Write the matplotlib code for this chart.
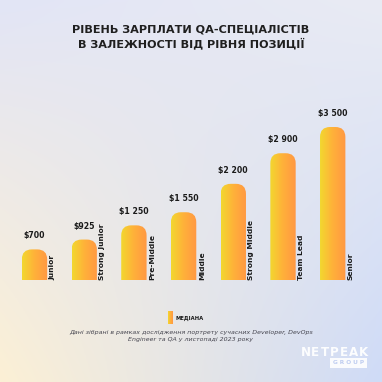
import numpy as np
import matplotlib
matplotlib.use("Agg")
import matplotlib.pyplot as plt
from matplotlib.patches import FancyBboxPatch
from matplotlib.colors import LinearSegmentedColormap, to_rgb

# data
categories = ["Junior", "Strong Junior", "Pre-Middle", "Middle",
              "Strong Middle", "Team Lead", "Senior"]
median_salary = [700, 925, 1250, 1550, 2200, 2900, 3500]
value_labels = ["$700", "$925", "$1 250", "$1 550", "$2 200", "$2 900", "$3 500"]

title = "РІВЕНЬ ЗАРПЛАТИ QA-СПЕЦІАЛІСТІВ\nВ ЗАЛЕЖНОСТІ ВІД РІВНЯ ПОЗИЦІЇ"
legend_label = "МЕДІАНА"
footnote = ("Дані зібрані в рамках дослідження портрету сучасних Developer, DevOps\n"
            "Engineer та QA у листопаді 2023 року")

W = H = 382
fig = plt.figure(figsize=(W / 100, H / 100), dpi=100)

# background gradient (4 corners blend)
bg = fig.add_axes([0, 0, 1, 1])
tl, tr = np.array(to_rgb("#e2e5f6")), np.array(to_rgb("#e9ebf3"))
bl, br = np.array(to_rgb("#fcf0d5")), np.array(to_rgb("#cfdbf7"))
u = np.linspace(0, 1, 200)[None, :, None]
v = np.linspace(0, 1, 200)[:, None, None]
img = (1 - v) * ((1 - u) * tl + u * tr) + v * ((1 - u) * bl + u * br)
bg.imshow(img, extent=[0, 1, 0, 1], aspect="auto", origin="upper")
bg.set_xlim(0, 1)
bg.set_ylim(0, 1)
bg.axis("off")

# chart axes placed in pixel terms
step = 49.7          # px between bars
left_px = 34.5 - step / 2
base_px = 280        # baseline from top
ax_h_px = 200
scale = 153 / 3500   # px per $
ytop = ax_h_px / scale
ax = fig.add_axes([left_px / W, (H - base_px) / H, 7 * step / W, ax_h_px / H])
ax.set_xlim(-0.5, 6.5)
ax.set_ylim(0, ytop)
ax.axis("off")
ax.patch.set_alpha(0)

bar_cmap = LinearSegmentedColormap.from_list("bar", ["#f2d82f", "#ffb03a", "#ff9843"])
grad = np.linspace(0, 1, 64)[None, :]

x = np.arange(len(categories))
bars = ax.bar(x, median_salary, width=0.51, color="none", edgecolor="none")

radius_px = 10
y_per_px = ytop / ax_h_px
x_per_px = 1 / step
for b, lab, cat in zip(bars, value_labels, categories):
    x0, w, h = b.get_x(), b.get_width(), b.get_height()
    clip = FancyBboxPatch((x0, -ytop * 0.2), w, h + ytop * 0.2,
                          boxstyle=f"round,pad=0,rounding_size={radius_px * x_per_px}",
                          mutation_aspect=y_per_px / x_per_px,
                          transform=ax.transData, facecolor="none", edgecolor="none")
    ax.add_patch(clip)
    im = ax.imshow(grad, cmap=bar_cmap, extent=[x0, x0 + w, 0, h],
                   aspect="auto", interpolation="bicubic", zorder=2)
    im.set_clip_path(clip)
    ax.text(x0 + w / 2, h + 9 * y_per_px, lab, ha="center", va="bottom",
            fontsize=5.6, fontweight="bold", color="#1a1a1a")
    ax.text(x0 + w + 2.5 * x_per_px, 0, cat, rotation=90, ha="left", va="bottom",
            fontsize=5.4, fontweight="bold", color="#1a1a1a")

ax.set_xlim(-0.5, 6.5)
ax.set_ylim(0, ytop)

# title
fig.text(0.5, 1 - 37 / H, title, ha="center", va="center", fontsize=8.1,
         fontweight="bold", color="#1f1f1f", linespacing=1.3)

# legend marker
leg = fig.add_axes([168 / W, 1 - 324 / H, 5 / W, 13 / H])
leg.imshow(grad, cmap=bar_cmap, extent=[0, 1, 0, 1], aspect="auto")
leg.axis("off")
fig.text(176 / W, 1 - 318 / H, legend_label, ha="left", va="center",
         fontsize=3.8, fontweight="bold", color="#1a1a1a")

# footnote
fig.text(191 / W, 1 - 336 / H, footnote, ha="center", va="center",
         fontsize=4.5, style="italic", color="#45454f", linespacing=1.3)

# logo
for i, ch in enumerate("NETPEAK"):
    fig.text((305.5 + i * 9.6) / W, 1 - 353 / H, ch, ha="center", va="center",
             fontsize=8.6, color="white", fontweight="bold", alpha=0.95)
fig.patches.append(plt.Rectangle((330 / W, 1 - 368 / H), 37 / W, 10 / H,
                                 transform=fig.transFigure, facecolor="white",
                                 edgecolor="none", alpha=0.9))
fig.text(348.5 / W, 1 - 363 / H, "G R O U P", ha="center", va="center",
         fontsize=4.2, color="#bfcdf0", fontweight="bold")

fig.savefig("out.png", dpi=100)
